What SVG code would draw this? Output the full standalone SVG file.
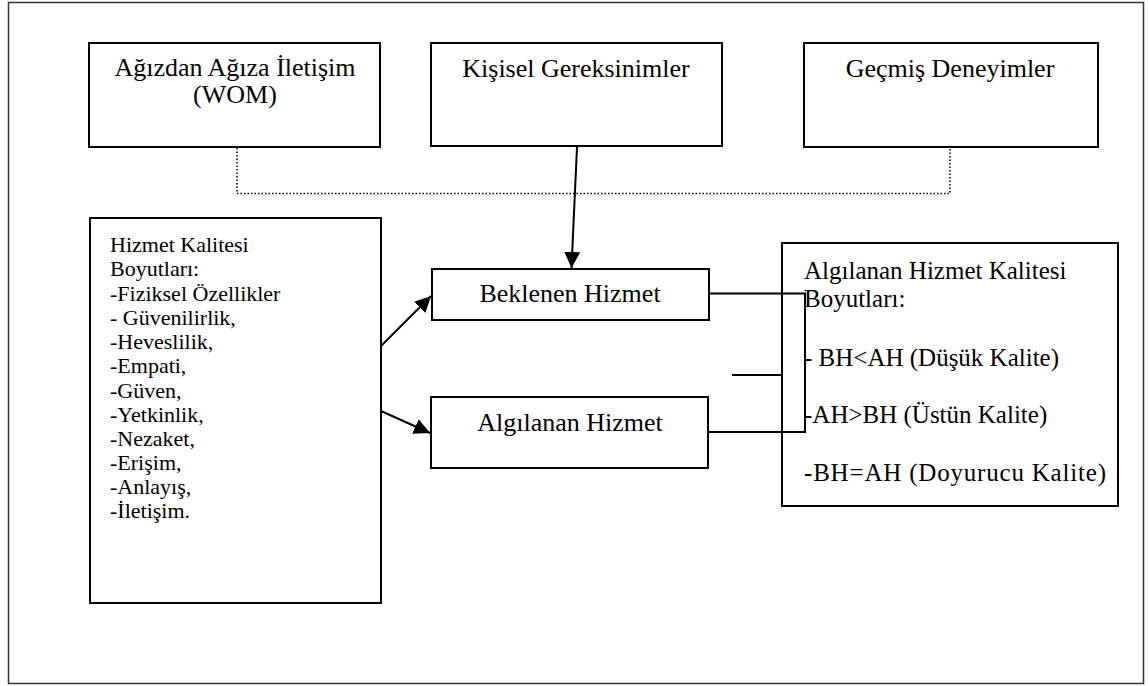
<svg xmlns="http://www.w3.org/2000/svg" width="1148" height="686" viewBox="0 0 1148 686">
<defs>
<style>
.box{fill:#fff;stroke:#000;stroke-width:2}
text{fill:#000}
.top{font-size:26px;text-anchor:middle}
.mid{font-size:26px;text-anchor:middle}
.lst{font-size:22px}
.rt{font-size:25px}
.ln{fill:none;stroke:#000;stroke-width:2}
.dot{fill:none;stroke:#000;stroke-width:1.5;stroke-dasharray:1.5 2}
</style>
<marker id="ah2" viewBox="0 0 10 10" refX="10" refY="5" markerWidth="16" markerHeight="16" markerUnits="userSpaceOnUse" orient="auto">
<path d="M0,0 L10,5 L0,10 z" fill="#000"/>
</marker>
</defs>
<rect x="8.5" y="2.5" width="1135" height="681" fill="#fff" stroke="#333" stroke-width="1.5"/>
<g font-family="Liberation Serif, 'Times New Roman', serif">
<g id="n-wom">
<rect class="box" x="89" y="43" width="291" height="104"/>
<text class="top" x="235" y="76">Ağızdan Ağıza İletişim</text>
<text class="top" x="235" y="103">(WOM)</text>
</g>
<g id="n-kisisel">
<rect class="box" x="431" y="43" width="291" height="103"/>
<text class="top" x="576" y="77">Kişisel Gereksinimler</text>
</g>
<g id="n-gecmis">
<rect class="box" x="804" y="43" width="294" height="104"/>
<text class="top" x="950" y="77">Geçmiş Deneyimler</text>
</g>
<g id="n-boyutlar">
<rect class="box" x="90" y="218" width="291" height="385"/>
<text class="lst" x="110" y="252">Hizmet Kalitesi</text>
<text class="lst" x="110" y="276">Boyutları:</text>
<text class="lst" x="110" y="300.5">-Fiziksel Özellikler</text>
<text class="lst" x="110" y="324.5">- Güvenilirlik,</text>
<text class="lst" x="110" y="349">-Heveslilik,</text>
<text class="lst" x="110" y="373">-Empati,</text>
<text class="lst" x="110" y="397.5">-Güven,</text>
<text class="lst" x="110" y="421.5">-Yetkinlik,</text>
<text class="lst" x="110" y="445.5">-Nezaket,</text>
<text class="lst" x="110" y="470">-Erişim,</text>
<text class="lst" x="110" y="494">-Anlayış,</text>
<text class="lst" x="110" y="518">-İletişim.</text>
</g>
<g id="n-beklenen">
<rect class="box" x="432" y="269" width="277" height="51"/>
<text class="mid" x="570" y="302">Beklenen Hizmet</text>
</g>
<g id="n-algilanan">
<rect class="box" x="431" y="397" width="277" height="71"/>
<text class="mid" x="570" y="431">Algılanan Hizmet</text>
</g>
<g id="n-sonuc">
<rect class="box" x="782" y="243" width="336" height="263"/>
<text class="rt" x="804" y="279">Algılanan Hizmet Kalitesi</text>
<text class="rt" x="804" y="307">Boyutları:</text>
<text class="rt" x="804" y="366">- BH&lt;AH (Düşük Kalite)</text>
<text class="rt" x="804" y="423">-AH&gt;BH (Üstün Kalite)</text>
<text class="rt" x="804" y="481" textLength="302" lengthAdjust="spacing">-BH=AH (Doyurucu Kalite)</text>
</g>
</g>
<g id="connectors">
<path class="dot" d="M237,148 V193.5 H950 V148"/>
<line class="ln" x1="577" y1="147" x2="571.5" y2="268" marker-end="url(#ah2)"/>
<line class="ln" x1="381" y1="346" x2="431" y2="296" marker-end="url(#ah2)"/>
<line class="ln" x1="381" y1="411" x2="430" y2="433" marker-end="url(#ah2)"/>
<path class="ln" d="M709,293.5 H805 V432 H709"/>
<line class="ln" x1="732" y1="375" x2="782" y2="375"/>
</g>
</svg>
